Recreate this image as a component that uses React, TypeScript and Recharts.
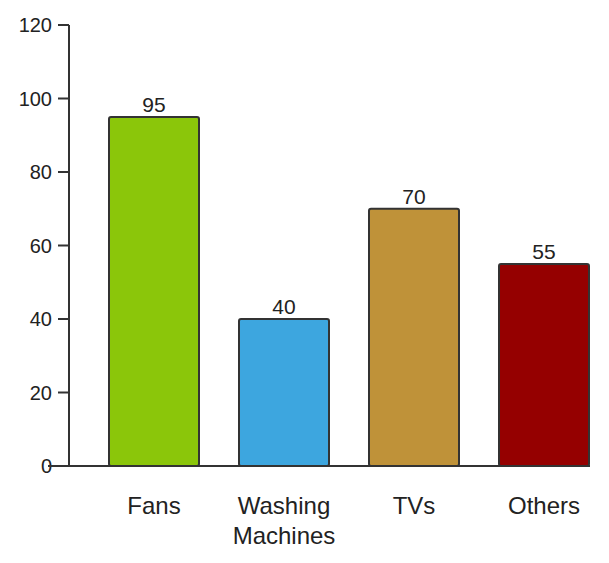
import React from "react";
import { BarChart, Bar, XAxis, YAxis, Cell, LabelList } from "recharts";

const categories = ["Fans", "Washing Machines", "TVs", "Others"];
const values = [95, 40, 70, 55];
const colors = ["#8BC60A", "#3DA6DF", "#BF9239", "#950000"];
const yTicks = [0, 20, 40, 60, 80, 100, 120];

const data = categories.map((c, i) => ({ name: c, value: values[i] }));

const AXIS = "#333333";
const FONT = "'Liberation Sans', Arial, sans-serif";

const YTick = (props: any) => {
  const { x, y, payload } = props;
  return (
    <g>
      <text x={x} y={y} dy="0.36em" textAnchor="end" fontSize={20} fill="#222" fontFamily={FONT}>
        {payload.value}
      </text>
      {payload.value === 0 && (
        <line x1={x - 4} x2={x + 17} y1={y} y2={y} stroke={AXIS} strokeWidth={2} />
      )}
    </g>
  );
};

const XTick = (props: any) => {
  const { x, y, payload } = props;
  const label: string = payload.value;
  const lines = label.length > 10 ? label.split(" ") : [label];
  return (
    <text x={x} y={y + 48} textAnchor="middle" fontSize={24} fill="#222" fontFamily={FONT}>
      {lines.map((l, i) => (
        <tspan key={i} x={x} dy={i === 0 ? 0 : 30}>
          {l}
        </tspan>
      ))}
    </text>
  );
};

export default function App() {
  return (
    <div style={{ position: "absolute", left: 0, top: 0, width: 609, height: 563, background: "#fff" }}>
      <BarChart
        width={609}
        height={563}
        data={data}
        margin={{ top: 25, right: 19, bottom: 37, left: 0 }}
      >
        <XAxis
          dataKey="name"
          padding={{ left: 20, right: -19 }}
          axisLine={{ stroke: AXIS, strokeWidth: 2 }}
          tickLine={false}
          tickSize={0}
          tickMargin={0}
          tick={<XTick />}
          height={60}
          interval={0}
        />
        <YAxis
          domain={[0, 120]}
          ticks={yTicks}
          width={69}
          axisLine={{ stroke: AXIS, strokeWidth: 2 }}
          tickLine={{ stroke: AXIS, strokeWidth: 2 }}
          tickSize={11}
          tickMargin={6}
          tick={<YTick />}
          interval={0}
        />
        <Bar
          dataKey="value"
          barSize={90}
          stroke={AXIS}
          strokeWidth={2}
          radius={2}
          isAnimationActive={false}
        >
          {data.map((d, i) => (
            <Cell key={d.name} fill={colors[i]} />
          ))}
          <LabelList
            dataKey="value"
            position="top"
            offset={5}
            fontSize={21}
            fill="#222"
            fontFamily={FONT}
          />
        </Bar>
      </BarChart>
    </div>
  );
}
